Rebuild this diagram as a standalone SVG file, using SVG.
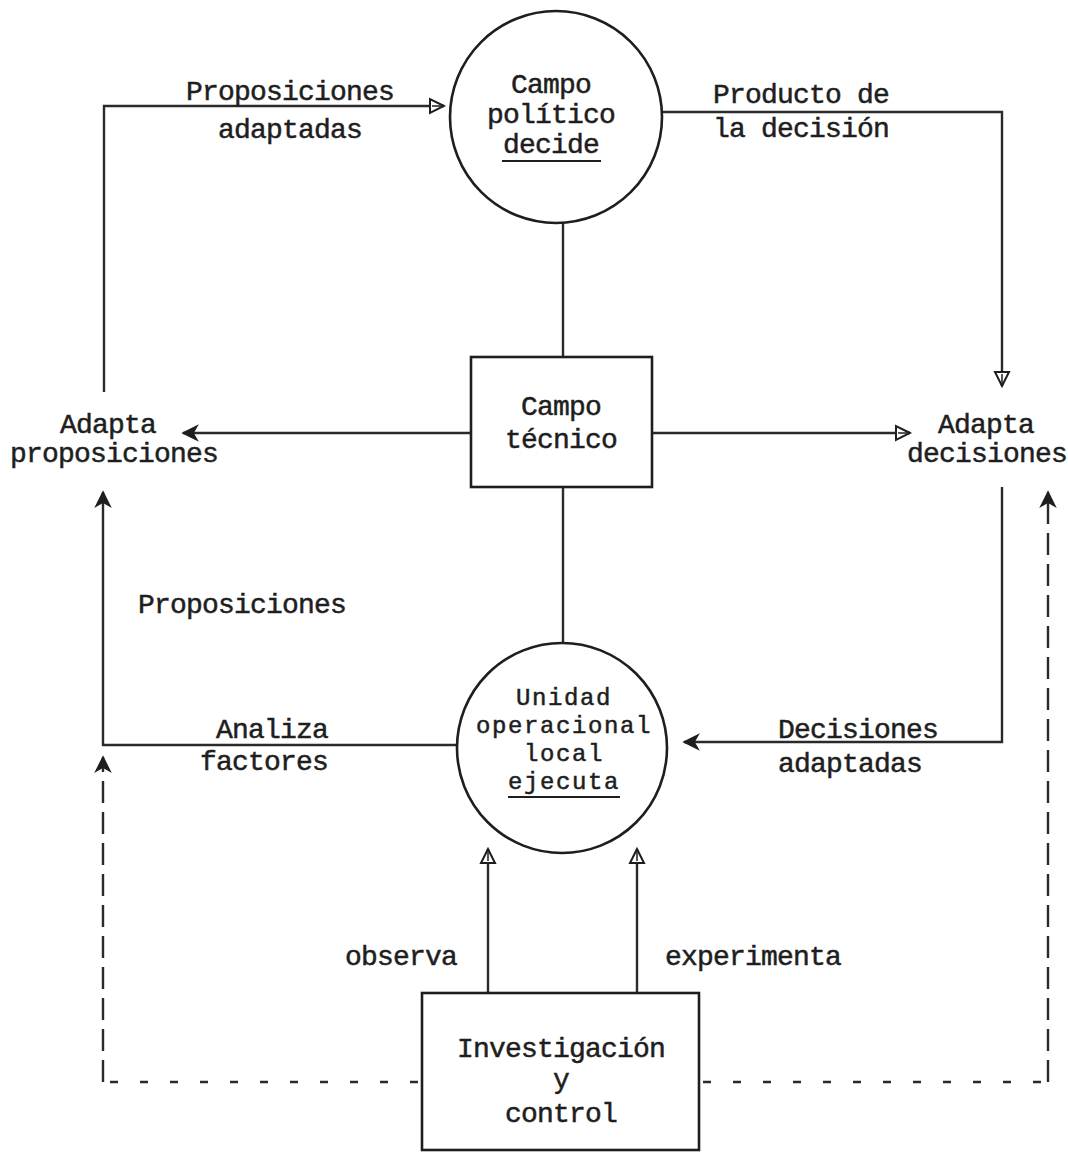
<svg xmlns="http://www.w3.org/2000/svg" width="1068" height="1159" viewBox="0 0 1068 1159">
  <style>
    .t { font-family: "Liberation Mono", "Courier New", monospace; font-size: 28px; letter-spacing: -0.8px; fill: #1e1e1e; stroke: #1e1e1e; stroke-width: 0.5px; }
    .s { font-size: 24px; letter-spacing: 1.6px; }
    .m { text-anchor: middle; }
    .e { text-anchor: end; }
    .shape { fill: none; stroke: #1e1e1e; stroke-width: 2.6; }
    .ln { fill: none; stroke: #2a2a2a; stroke-width: 2.4; }
    .dh { fill: none; stroke: #2a2a2a; stroke-width: 2.6; stroke-dasharray: 8 22; }
    .dv { fill: none; stroke: #2a2a2a; stroke-width: 2.4; stroke-dasharray: 22 9; }
  </style>
  <defs>
    <marker id="af" viewBox="-16 -9 18 18" markerWidth="18" markerHeight="18" refX="0" refY="0" orient="auto" markerUnits="userSpaceOnUse">
      <path d="M0,0 L-14,-7 L-10,0 L-14,7 Z" fill="#1e1e1e" stroke="#1e1e1e" stroke-width="1.5"/>
    </marker>
    <marker id="ah" viewBox="-16 -9 18 18" markerWidth="18" markerHeight="18" refX="0" refY="0" orient="auto" markerUnits="userSpaceOnUse">
      <path d="M0,0 L-14,-7 L-14,7 Z" fill="#ffffff" stroke="#1e1e1e" stroke-width="2"/>
      <path d="M-2,0 L-12,0" stroke="#1e1e1e" stroke-width="1.5"/>
    </marker>
  </defs>
  <rect width="1068" height="1159" fill="#ffffff"/>

  <g id="connectors">
    <path class="ln" d="M104,392 V106 H444" marker-end="url(#ah)"/>
    <path class="ln" d="M662,112 H1002 V386" marker-end="url(#ah)"/>
    <line class="ln" x1="563" y1="222" x2="563" y2="357"/>
    <line class="ln" x1="563" y1="487" x2="563" y2="643"/>
    <line class="ln" x1="471" y1="433" x2="183" y2="433" marker-end="url(#af)"/>
    <line class="ln" x1="652" y1="433" x2="910" y2="433" marker-end="url(#ah)"/>
    <path class="ln" d="M1002,487 V742 H684" marker-end="url(#af)"/>
    <path class="ln" d="M457,745 H103 V492" marker-end="url(#af)"/>
    <line class="ln" x1="488" y1="992" x2="488" y2="849" marker-end="url(#ah)"/>
    <line class="ln" x1="637" y1="992" x2="637" y2="849" marker-end="url(#ah)"/>
    <path class="dh" d="M418,1082 H103"/>
    <path class="dv" d="M103,1082 V757" marker-end="url(#af)"/>
    <path class="dh" d="M703,1082 H1048"/>
    <path class="dv" d="M1048,1082 V492" marker-end="url(#af)"/>
  </g>

  <g id="campo-politico">
    <circle class="shape" cx="556" cy="117" r="106"/>
    <text class="t m" x="551" y="93">Campo</text>
    <text class="t m" x="551" y="123">político</text>
    <text class="t m" x="551" y="153">decide</text>
    <line x1="502" y1="161" x2="601" y2="161" stroke="#1e1e1e" stroke-width="2"/>
  </g>

  <g id="campo-tecnico">
    <rect class="shape" x="471" y="357" width="181" height="130"/>
    <text class="t m" x="561" y="415">Campo</text>
    <text class="t m" x="561" y="448">técnico</text>
  </g>

  <g id="unidad-operacional">
    <circle class="shape" cx="562" cy="748" r="105"/>
    <text class="t s m" x="564" y="705">Unidad</text>
    <text class="t s m" x="564" y="733">operacional</text>
    <text class="t s m" x="564" y="761">local</text>
    <text class="t s m" x="564" y="789">ejecuta</text>
    <line x1="508" y1="797" x2="620" y2="797" stroke="#1e1e1e" stroke-width="2"/>
  </g>

  <g id="investigacion">
    <rect class="shape" x="422" y="993" width="277" height="157"/>
    <text class="t m" x="561" y="1057">Investigación</text>
    <text class="t m" x="561" y="1088">y</text>
    <text class="t m" x="561" y="1122">control</text>
  </g>

  <g id="adapta-proposiciones">
    <text class="t m" x="108" y="433">Adapta</text>
    <text class="t m" x="114" y="462">proposiciones</text>
  </g>

  <g id="adapta-decisiones">
    <text class="t m" x="986" y="433">Adapta</text>
    <text class="t m" x="987" y="462">decisiones</text>
  </g>

  <g id="labels">
    <text class="t m" x="290" y="100">Proposiciones</text>
    <text class="t m" x="290" y="138">adaptadas</text>
    <text class="t" x="713" y="103">Producto de</text>
    <text class="t" x="713" y="137">la decisión</text>
    <text class="t" x="138" y="613">Proposiciones</text>
    <text class="t e" x="328" y="738">Analiza</text>
    <text class="t e" x="328" y="770">factores</text>
    <text class="t" x="778" y="738">Decisiones</text>
    <text class="t" x="778" y="772">adaptadas</text>
    <text class="t e" x="457" y="965">observa</text>
    <text class="t" x="665" y="965">experimenta</text>
  </g>
</svg>
